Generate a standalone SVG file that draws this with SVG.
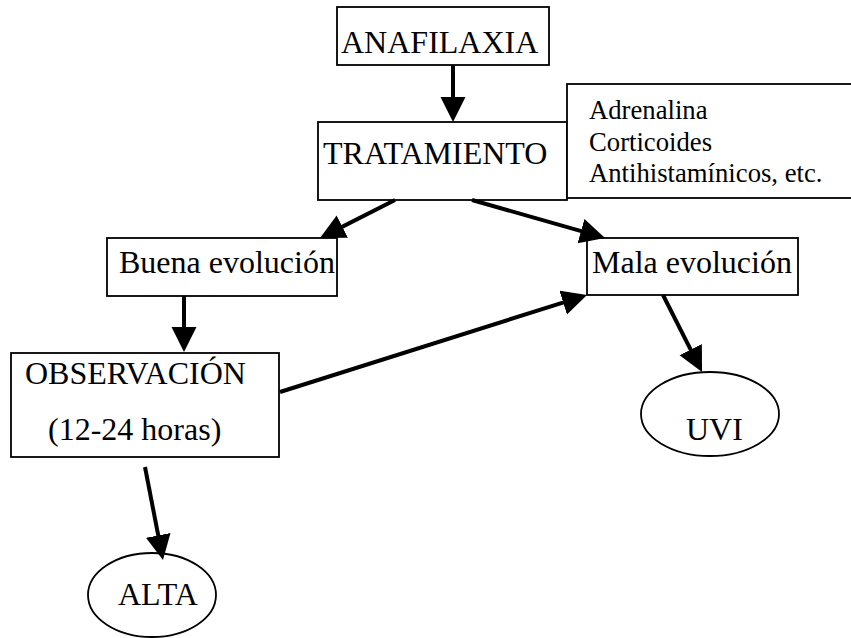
<svg xmlns="http://www.w3.org/2000/svg" width="851" height="638" viewBox="0 0 851 638">
<style>
.box{fill:#fff;stroke:#000;stroke-width:1.8}
.t{font-family:"Liberation Serif","Times New Roman",serif;font-size:32px;fill:#000}
.s{font-family:"Liberation Serif","Times New Roman",serif;font-size:26.7px;fill:#000}
.c{stroke:#000;stroke-width:4;fill:none;marker-end:url(#ah)}
</style>
<defs>
<marker id="ah" markerUnits="userSpaceOnUse" markerWidth="26" markerHeight="26" refX="13" refY="12.5" orient="auto" viewBox="0 0 26 26">
<path d="M0,0 L25,12.5 L0,25 z" fill="#000"/>
</marker>
</defs>
<rect width="851" height="638" fill="#fff"/>
<g id="anafilaxia"><rect class="box" x="337" y="7" width="212" height="58"/><text class="t" x="341" y="53">ANAFILAXIA</text></g>
<g id="tratamiento"><rect class="box" x="318" y="122" width="249" height="78"/><text class="t" x="323" y="164">TRATAMIENTO</text></g>
<g id="farmacos"><rect class="box" x="567" y="84" width="290" height="114"/>
<text class="s" x="589" y="119">Adrenalina</text>
<text class="s" x="589" y="151">Corticoides</text>
<text class="s" x="589" y="182">Antihistamínicos, etc.</text></g>
<g id="buena"><rect class="box" x="107" y="238" width="230" height="58"/><text class="t" x="119" y="273">Buena evolución</text></g>
<g id="mala"><rect class="box" x="587" y="238" width="211" height="57"/><text class="t" x="592" y="273">Mala evolución</text></g>
<g id="observacion"><rect class="box" x="11" y="353" width="268" height="104"/>
<text class="t" x="25" y="384">OBSERVACIÓN</text>
<text class="t" x="48" y="440">(12-24 horas)</text></g>
<g id="uvi"><ellipse class="box" cx="710" cy="414" rx="69" ry="42"/><text class="t" x="686" y="440">UVI</text></g>
<g id="alta"><ellipse class="box" cx="152" cy="595" rx="64" ry="42"/><text class="t" x="118" y="605">ALTA</text></g>
<g id="connectors">
<line class="c" x1="453" y1="65" x2="453" y2="110"/>
<line class="c" x1="395" y1="200" x2="330.7" y2="232.6"/>
<line class="c" x1="472" y1="200" x2="593.5" y2="234.7"/>
<line class="c" x1="184" y1="296" x2="184" y2="340"/>
<line class="c" x1="280" y1="392" x2="575.6" y2="298.6"/>
<line class="c" x1="663" y1="295" x2="696.6" y2="361.3"/>
<line class="c" x1="145" y1="467" x2="160.7" y2="548.2"/>
</g>
</svg>
